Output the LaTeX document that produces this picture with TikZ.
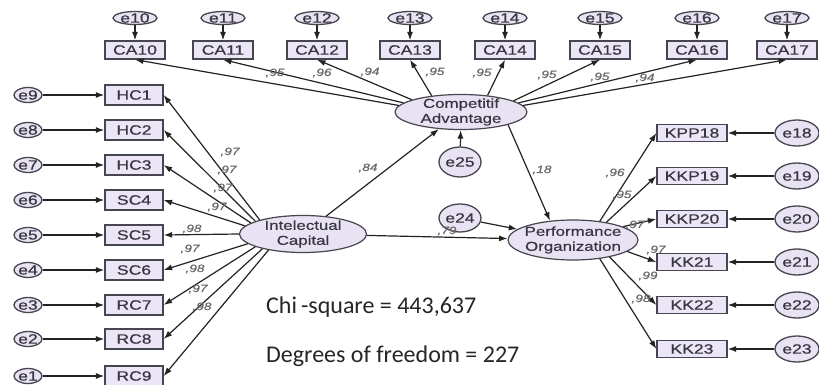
\documentclass[tikz,border=0pt]{standalone}
\usepackage{fontspec}
\setmainfont{Liberation Sans}[FakeStretch=1.3,FakeBold=0.6]
\newfontfamily\chifont{Carlito}
\usetikzlibrary{shapes.geometric,arrows.meta}
\definecolor{linec}{RGB}{35,35,35}
\definecolor{bordc}{RGB}{70,70,80}
\definecolor{boxfill}{RGB}{236,229,246}
\definecolor{elfill}{RGB}{233,226,243}
\definecolor{txtc}{RGB}{55,55,65}
\definecolor{lblc}{RGB}{105,105,105}
\begin{document}
\begin{tikzpicture}[x=1pt,y=-1pt,
  obs/.style={draw=bordc, line width=1.3pt, fill=boxfill, minimum width=60pt, minimum height=18pt, inner sep=0pt, font=\fontsize{13.5}{14}\selectfont, text=txtc},
  err/.style={ellipse, draw=bordc, line width=1.3pt, fill=elfill, inner sep=-6pt, font=\fontsize{13.5}{14}\selectfont, text=txtc},
  lat/.style={ellipse, draw=bordc, line width=1.2pt, fill=elfill, inner sep=-10pt, align=center, font=\fontsize{13}{15}\selectfont, text=txtc},
  arr/.style={-{Latex[length=8.5pt,width=6pt]}, line width=1.2pt, draw=linec},
  lbl/.style={font=\fontsize{10.5}{11}\selectfont\itshape, text=lblc, inner sep=0pt}
]
\useasboundingbox (0,0) rectangle (819,385);
\fill[white] (0,0) rectangle (819,385);

% latent variables
\node[lat, minimum width=127pt, minimum height=37pt] (IC) at (303,234) {Intelectual\\Capital};
\node[lat, minimum width=132pt, minimum height=35pt] (ComAdv) at (461,112) {Competitif\\Advantage};
\node[lat, minimum width=130pt, minimum height=40pt] (PO) at (573,240) {Performance\\Organization};
\node[err, minimum width=42pt, minimum height=30pt] (e25) at (460,162) {e25};
\node[err, minimum width=42pt, minimum height=28pt] (e24) at (460,218) {e24};

% top indicators
\foreach \n/\x/\a in {10/135/174,11/223/171,12/317/166,13/410/151,14/505/32,15/600/12,16/697/9,17/787/6}{
  \node[err, minimum width=44pt, minimum height=13pt] (e\n) at (\x,18) {e\n};
  \node[obs] (CA\n) at (\x,50) {CA\n};
  \draw[arr] (e\n) -- (CA\n);
  \draw[arr] (ComAdv.\a) -- (CA\n.south);
}

% left indicators
\foreach \lab/\e/\y/\a in {HC1/9/95/162,HC2/8/130/165,HC3/7/165/168,SC4/6/200/172,SC5/5/235/180,SC6/4/270/190,RC7/3/305/195,RC8/2/339/200,RC9/1/376/205}{
  \node[err, minimum width=28pt, minimum height=15pt] (e\e) at (28,\y) {e\e};
  \node[obs, minimum width=58pt, minimum height=20pt] (\lab) at (134,\y) {\lab};
  \draw[arr] (e\e) -- (\lab);
  \draw[arr] (IC.\a) -- (\lab.east);
}

% right indicators
\foreach \lab/\e/\y/\a in {KPP18/18/133/35,KKP19/19/176/28,KKP20/20/219/15,KK21/21/262/-12,KK22/22/305/-25,KK23/23/349/-35}{
  \node[err, minimum width=44pt, minimum height=26pt] (e\e) at (797,\y) {e\e};
  \node[obs, minimum width=70pt, minimum height=17pt] (\lab) at (692,\y) {\lab};
  \draw[arr] (e\e) -- (\lab);
  \draw[arr] (PO.\a) -- (\lab.west);
}

% structural paths
\draw[arr] (IC) -- (ComAdv);
\draw[arr] (IC) -- (PO);
\draw[arr] (ComAdv.south east) -- (PO.140);
\draw[arr] (e25) -- (ComAdv);
\draw[arr] (e24) -- (PO);

% labels
\foreach \x/\y/\t in {275/73/{,95},322/73/{,96},370/72/{,94},435/72/{,95},482/73/{,95},547/75/{,95},600/77/{,95},645/78/{,94},
  230/152/{,97},227/170/{,97},223/188/{,97},217/207/{,97},192/229/{,98},190/249/{,97},195/269/{,98},198/289/{,97},202/307/{,98},
  615/173/{,96},622/195/{,95},635/225/{,97},656/250/{,97},648/276/{,99},641/299/{,98},
  368/168/{,84},542/170/{,18},447/231/{,79}}{
  \node[lbl] at (\x,\y) {\t};
}

\node[anchor=base west, font=\chifont\fontsize{24}{26}\selectfont, text=black!85, inner sep=0pt] (chi) at (266,313) {Chi\,-square = 443,637};
\node[anchor=base west, font=\chifont\fontsize{24}{26}\selectfont, text=black!85, inner sep=0pt] (dof) at (266,362) {Degrees of freedom = 227};
\end{tikzpicture}
\end{document}
